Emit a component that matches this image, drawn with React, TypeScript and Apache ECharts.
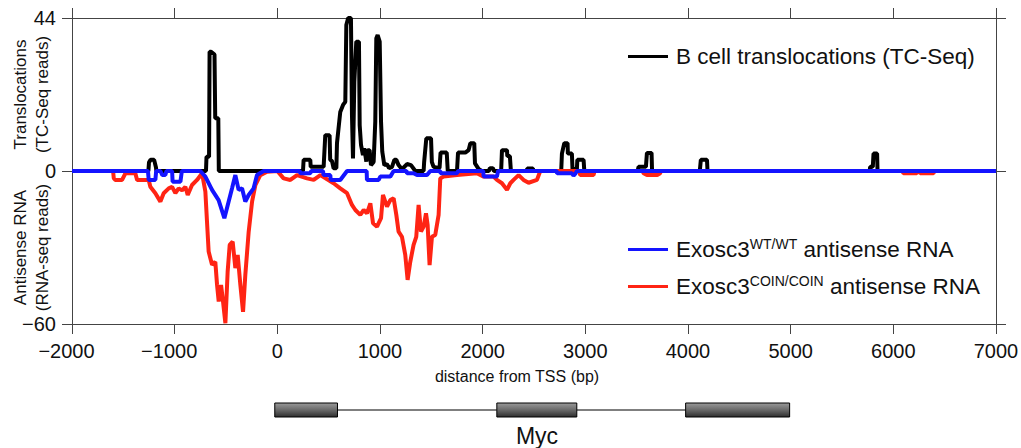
import { useEffect, useRef } from "react";
import * as echarts from "echarts";

// ---- axis ranges ----
const X_MIN = -2000;
const X_MAX = 7000;
const X_STEP = 1000;
const TOP_MAX = 44;
const BOTTOM_MIN = -60;

// ---- series names ----
const TC_NAME = "B cell translocations (TC-Seq)";
const WT_NAME = "Exosc3 WT/WT antisense RNA";
const COIN_NAME = "Exosc3 COIN/COIN antisense RNA";

// ---- data: [distance from TSS (bp), reads] ----
const translocations: [number, number][] = [
  [-2000, 0], [-1256, 0], [-1250, 2.5], [-1235, 3.2], [-1200, 3.2], [-1182, 1.0], [-1178, 0],
  [-695, 0], [-690, 4.1], [-665, 4.1], [-660, 34.3], [-645, 34.3], [-612, 33.5], [-605, 15.2],
  [-575, 15.2], [-570, 0],
  [250, 0], [256, 3.2], [321, 3.2], [325, 1.2], [451, 1.2], [467, 10.3], [509, 10.3], [515, 3.2],
  [532, 2.9], [548, 0.8], [575, 0.8], [581, 8.0], [613, 17], [640, 19], [662, 19.9], [672, 42],
  [690, 44], [717, 44], [727, 16.1], [737, 3.6], [750, 25.7], [769, 37.2], [795, 37.2],
  [802, 13.2], [815, 7.5], [834, 4.6], [847, 6.5], [867, 2.7], [880, 6.0], [899, 6.0], [912, 1.7],
  [938, 2.6], [954, 14.2], [964, 38.2], [977, 39.1], [997, 37.2], [1010, 14.2], [1022, 5.6],
  [1042, 1.7], [1068, 2.0], [1088, 0.8], [1117, 1.2], [1140, 3.2], [1159, 3.2], [1181, 1.7],
  [1214, 0.5], [1263, 2.0], [1302, 1.7], [1344, 0], [1425, 0], [1430, 2.6], [1451, 9.4],
  [1497, 9.4], [1505, 2.6], [1522, 1.2], [1580, 0.8], [1590, 5.3], [1650, 5.3], [1660, 0],
  [1750, 0], [1760, 5.3], [1831, 5.3], [1863, 6.0], [1880, 8.0], [1918, 8.0], [1925, 2.2],
  [1960, 0.6], [1990, 0], [2060, 0], [2070, 0.8], [2100, 0.8], [2110, 0], [2180, 0], [2188, 6.0],
  [2237, 6.0], [2240, 4.3], [2265, 4.3], [2275, 0], [2430, 0], [2434, 0.7], [2490, 0.7],
  [2495, 0], [2765, 0], [2772, 5.0], [2795, 8.0], [2827, 8.0], [2830, 5.0], [2869, 5.0],
  [2875, 0.6], [2918, 0.6], [2922, 3.2], [2983, 3.2], [2990, 0], [3510, 0], [3518, 1.2],
  [3590, 1.2], [3600, 5.2], [3645, 5.2], [3650, 0], [4115, 0], [4125, 3.2], [4185, 3.2],
  [4190, 0], [5770, 0], [5774, 1.2], [5800, 1.2], [5807, 5.0], [5842, 5.0], [5846, 0], [7000, 0],
];

const wtAntisense: [number, number][] = [
  [-2000, 0], [-1260, 0], [-1253, -3.5], [-1188, -3.5], [-1180, 0], [-1139, 0], [-1120, -1.6],
  [-1091, -1.6], [-1080, 0], [-1025, 0], [-1020, -4.2], [-944, -4.2], [-930, 0], [-750, 0],
  [-701, -2.2], [-636, -7.4], [-572, -11.4], [-516, -18.5], [-474, -12], [-441, -6.8],
  [-409, -1.6], [-377, -7.4], [-344, -6.8], [-312, -12], [-279, -9.4], [-231, -6.8],
  [-198, -1.6], [-133, 0], [220, 0], [224, -0.9], [321, -0.9], [330, 0], [445, 0], [450, -1.6],
  [516, -1.6], [520, -3.5], [613, -3.5], [679, 0], [870, 0], [873, -3.5], [987, -3.5],
  [1003, -2.2], [1100, -2.2], [1133, 0], [1258, 0], [1263, -0.9], [1327, -0.9], [1360, -1.6],
  [1458, -1.6], [1490, 0], [1587, 0], [1590, -0.9], [1750, -0.9], [1760, 0], [2005, 0],
  [2010, -2.2], [2139, -2.2], [2150, 0], [2720, 0], [2725, -0.9], [2870, -0.9], [2885, -1.8],
  [2905, -0.9], [2918, 0], [7000, 0],
];

const coinAntisense: [number, number][] = [
  [-2000, 0], [-1600, 0], [-1593, -2.9], [-1577, -3.5], [-1512, -3.5], [-1480, -0.9],
  [-1383, -0.9], [-1366, -3.5], [-1253, -3.5], [-1237, -6.2], [-1188, -8.7], [-1139, -12],
  [-1107, -8.7], [-1058, -6.8], [-1025, -6.2], [-993, -8.7], [-961, -6.8], [-928, -7.6],
  [-896, -6.2], [-873, -9.4], [-831, -5.5], [-782, -3.5], [-733, -0.9], [-701, -8.1],
  [-685, -19.9], [-669, -31.6], [-636, -36.8], [-604, -35.6], [-587, -44.7], [-571, -51.2],
  [-548, -44.7], [-529, -51.2], [-506, -59.7], [-484, -39.5], [-464, -29], [-435, -27.7],
  [-409, -38.1], [-386, -32.9], [-360, -44.7], [-334, -55.2], [-312, -40.8], [-279, -23.8],
  [-246, -12], [-214, -5.5], [-166, -1.6], [-100, -0.3], [0, 0], [61, -2.9], [127, -3.5],
  [192, -1.6], [289, -2.9], [354, -3.5], [419, -1.6], [548, -4.8], [613, -6.8], [679, -8.7],
  [727, -13.3], [760, -15.3], [808, -17.2], [841, -15.3], [873, -16.6], [906, -12.7],
  [932, -20.5], [971, -21.8], [1010, -18.5], [1029, -9.4], [1068, -14], [1100, -11.4],
  [1133, -10.7], [1159, -17.2], [1181, -23.8], [1214, -25.8], [1246, -32.9], [1269, -42.7],
  [1295, -35.6], [1327, -29], [1353, -25.8], [1376, -13.3], [1399, -23.8], [1425, -21.8],
  [1448, -16.6], [1464, -21.2], [1483, -36.9], [1506, -25.8], [1538, -25.1], [1571, -17.2],
  [1587, -2.9], [1619, -2.2], [1750, -1.6], [1944, -0.9], [2009, -2.2], [2106, -2.2],
  [2139, -3.5], [2188, -4.8], [2237, -7.4], [2269, -4.8], [2301, -3.5], [2350, -1.6],
  [2398, -3.5], [2447, -4.6], [2529, -3.5], [2561, 0], [2940, 0], [2950, -1.6], [3080, -1.6],
  [3090, 0], [3560, 0], [3567, -0.9], [3600, -1.6], [3700, -1.6], [3729, -0.9], [3735, 0],
  [6090, 0], [6098, -0.9], [6228, -0.9], [6235, 0], [6255, 0], [6261, -0.9], [6391, -0.9],
  [6398, 0], [7000, 0],
];

// ---- gene model (bp) ----
const GENE_NAME = "Myc";
const exons: [number, number][] = [[-25, 586], [2138, 2917], [3977, 4990]];
const introns: [number, number][] = [[586, 2138], [2917, 3977]];

const FONT = "'Liberation Sans', Arial, Helvetica, sans-serif";
const AXIS_COLOR = "#444";
const TEXT_COLOR = "#111";

function fmtNum(v: number) {
  return v < 0 ? "\u2212" + Math.abs(v) : String(v);
}

export default function App() {
  const ref = useRef<HTMLDivElement>(null);

  useEffect(() => {
    if (!ref.current) return;
    const chart = echarts.init(ref.current, undefined, { renderer: "svg" });

    const gridPos = { left: 72, right: 25, containLabel: false, outerBoundsMode: "none" };
    const axisLine = { show: true, onZero: false, lineStyle: { color: AXIS_COLOR, width: 1 } };
    const axisTick = { show: true, inside: false, length: 10, lineStyle: { color: AXIS_COLOR, width: 1 } };
    const tickLabel = { fontSize: 20, color: TEXT_COLOR, fontFamily: FONT };
    const yNameStyle = { fontSize: 17, lineHeight: 22, color: TEXT_COLOR, fontFamily: FONT };

    const legendText = {
      fontSize: 22.5,
      color: TEXT_COLOR,
      fontFamily: FONT,
      rich: {
        f: { fontSize: 22.5, fontFamily: FONT, color: TEXT_COLOR, lineHeight: 24, padding: [0, 0, 0, 3] },
        b: { fontSize: 22.5, fontFamily: FONT, color: TEXT_COLOR, lineHeight: 24 },
        sup: { fontSize: 14, fontFamily: FONT, color: TEXT_COLOR, lineHeight: 24, padding: [0, 0, 11, 0] },
      },
    };
    const legendFormatter = (name: string) => {
      if (name === WT_NAME) return "{f|Exosc3}{sup|WT/WT}{b| antisense RNA}";
      if (name === COIN_NAME) return "{f|Exosc3}{sup|COIN/COIN}{b| antisense RNA}";
      return "{f|" + name + "}";
    };

    const exonGradient = new echarts.graphic.LinearGradient(0, 0, 0, 1, [
      { offset: 0, color: "#9a9a9a" },
      { offset: 0.45, color: "#6e6e6e" },
      { offset: 1, color: "#2e2e2e" },
    ]);

    chart.setOption({
      animation: false,
      backgroundColor: "#fff",
      textStyle: { fontFamily: FONT },
      grid: [
        { ...gridPos, top: 18, height: 153 },
        { ...gridPos, top: 171, height: 153 },
        { ...gridPos, top: 403, height: 14 },
      ],
      xAxis: [
        {
          gridIndex: 0, type: "value", position: "top", min: X_MIN, max: X_MAX, interval: X_STEP,
          axisLine, axisTick, axisLabel: { show: false }, splitLine: { show: false },
        },
        {
          gridIndex: 1, type: "value", position: "bottom", min: X_MIN, max: X_MAX, interval: X_STEP,
          axisLine, axisTick, splitLine: { show: false },
          axisLabel: {
            ...tickLabel, margin: 17,
            formatter: (v: number) => (v < 0 ? "{n|" + fmtNum(v) + "}" : "{p|" + v + "}"),
            rich: {
              n: { ...tickLabel, padding: [0, 11, 0, 0] },
              p: { ...tickLabel },
            },
          },
          name: "distance from TSS (bp)",
          nameLocation: "middle",
          nameGap: 44,
          nameMoveOverlap: false,
          nameTextStyle: { fontSize: 16, color: TEXT_COLOR, fontFamily: FONT, padding: [0, 34, 0, 0] },
        },
        { gridIndex: 2, type: "value", show: false, min: X_MIN, max: X_MAX },
      ],
      yAxis: [
        {
          gridIndex: 0, type: "value", position: "left", min: 0, max: TOP_MAX, interval: TOP_MAX,
          axisLine, axisTick, splitLine: { show: false },
          axisLabel: { ...tickLabel, margin: 16, formatter: (v: number) => fmtNum(v) },
          name: "Translocations\n(TC-Seq reads)",
          nameLocation: "middle", nameRotate: 90, nameGap: 19, nameMoveOverlap: false,
          nameTextStyle: yNameStyle,
        },
        {
          gridIndex: 0, type: "value", position: "right", min: 0, max: TOP_MAX, interval: TOP_MAX,
          axisLine, axisTick, splitLine: { show: false }, axisLabel: { show: false },
        },
        {
          gridIndex: 1, type: "value", position: "left", min: BOTTOM_MIN, max: 0, interval: -BOTTOM_MIN,
          axisLine, axisTick, splitLine: { show: false },
          axisLabel: { ...tickLabel, margin: 16, formatter: (v: number) => (v === 0 ? "" : fmtNum(v)) },
          name: "Antisense RNA\n(RNA-seq reads)",
          nameLocation: "middle", nameRotate: 90, nameGap: 19, nameMoveOverlap: false,
          nameTextStyle: yNameStyle,
        },
        {
          gridIndex: 1, type: "value", position: "right", min: BOTTOM_MIN, max: 0, interval: -BOTTOM_MIN,
          axisLine, axisTick, splitLine: { show: false }, axisLabel: { show: false },
        },
        { gridIndex: 2, type: "value", show: false, min: 0, max: 1 },
      ],
      legend: [
        {
          data: [TC_NAME], left: 628, top: 45, padding: 0, icon: "rect", itemWidth: 40, itemHeight: 3,
          textStyle: legendText, formatter: legendFormatter, selectedMode: false,
        },
        {
          data: [WT_NAME, COIN_NAME], orient: "vertical", left: 628, top: 237, padding: 0, itemGap: 12,
          icon: "rect", itemWidth: 40, itemHeight: 3,
          textStyle: legendText, formatter: legendFormatter, selectedMode: false,
        },
      ],
      series: [
        {
          type: "line", name: TC_NAME, xAxisIndex: 0, yAxisIndex: 0, data: translocations,
          symbol: "none", showSymbol: false, clip: false,
          lineStyle: { color: "#000", width: 4 }, itemStyle: { color: "#000" }, z: 2,
        },
        {
          type: "line", name: COIN_NAME, xAxisIndex: 1, yAxisIndex: 2, data: coinAntisense,
          symbol: "none", showSymbol: false, clip: false,
          lineStyle: { color: "#ff2414", width: 4 }, itemStyle: { color: "#ff2414" }, z: 3,
        },
        {
          type: "line", name: WT_NAME, xAxisIndex: 1, yAxisIndex: 2, data: wtAntisense,
          symbol: "none", showSymbol: false, clip: false,
          lineStyle: { color: "#1414ff", width: 4 }, itemStyle: { color: "#1414ff" }, z: 4,
        },
        {
          type: "custom", name: "introns", xAxisIndex: 2, yAxisIndex: 4, data: introns,
          encode: { x: [0, 1] }, silent: true,
          renderItem: (_p: any, api: any) => {
            const a = api.coord([api.value(0), 0.5]);
            const b = api.coord([api.value(1), 0.5]);
            return {
              type: "line",
              shape: { x1: a[0], y1: a[1], x2: b[0], y2: b[1] },
              style: { stroke: "#000", lineWidth: 1.2 },
            };
          },
        },
        {
          type: "custom", name: "exons", xAxisIndex: 2, yAxisIndex: 4, data: exons,
          encode: { x: [0, 1] }, silent: true,
          renderItem: (_p: any, api: any) => {
            const a = api.coord([api.value(0), 1]);
            const b = api.coord([api.value(1), 0]);
            return {
              type: "rect",
              shape: { x: a[0], y: a[1], width: b[0] - a[0], height: b[1] - a[1] },
              style: { fill: exonGradient, stroke: "#000", lineWidth: 1 },
            };
          },
        },
      ],
      graphic: [
        {
          type: "text", x: 537, y: 436,
          style: {
            text: GENE_NAME, fontSize: 23, fontFamily: FONT, fill: TEXT_COLOR,
            textAlign: "center", textVerticalAlign: "middle",
          },
        },
      ],
    });

    return () => chart.dispose();
  }, []);

  return (
    <div
      ref={ref}
      style={{ position: "absolute", left: 0, top: 0, width: 1021, height: 448 }}
    />
  );
}
